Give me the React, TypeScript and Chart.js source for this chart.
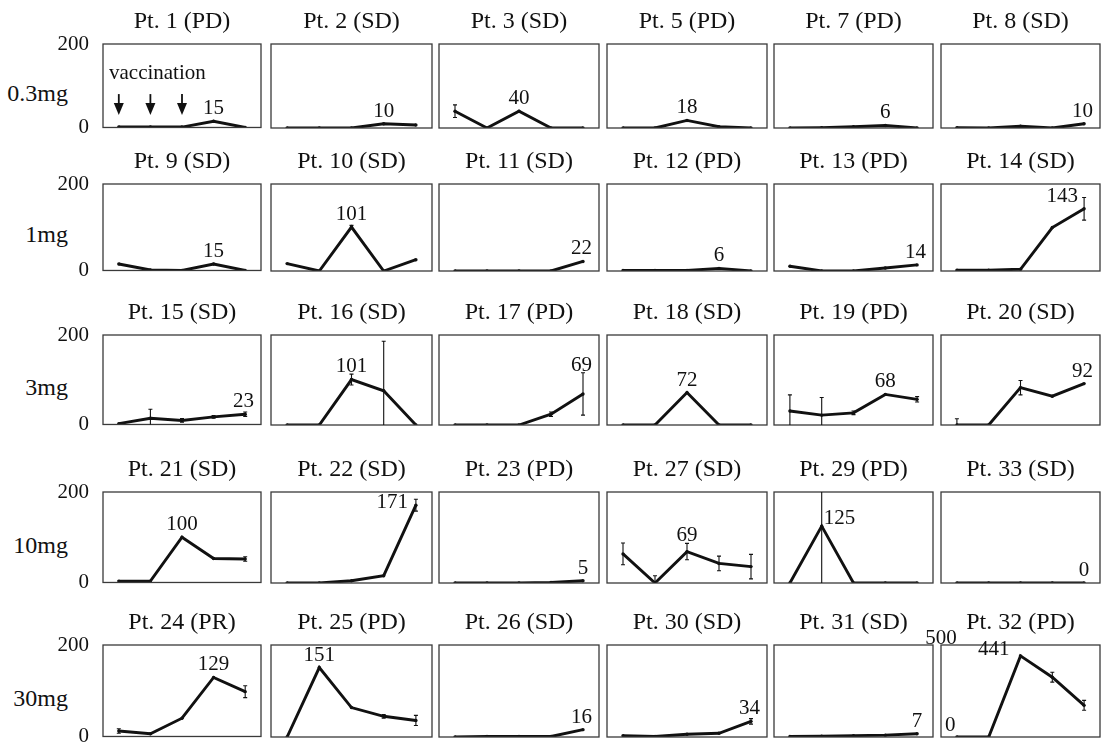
import React, { useEffect, useRef } from 'react';
import { Chart, registerables } from 'chart.js';

Chart.register(...registerables);

// ---------------- data ----------------
const timepoints = ['1', '2', '3', '4', '5'];
const doseLabels = ['0.3mg', '1mg', '3mg', '10mg', '30mg'];

const titles03 = ['Pt. 1 (PD)', 'Pt. 2 (SD)', 'Pt. 3 (SD)', 'Pt. 5 (PD)', 'Pt. 7 (PD)', 'Pt. 8 (SD)'];
const titles1 = ['Pt. 9 (SD)', 'Pt. 10 (SD)', 'Pt. 11 (SD)', 'Pt. 12 (PD)', 'Pt. 13 (PD)', 'Pt. 14 (SD)'];
const titles3 = ['Pt. 15 (SD)', 'Pt. 16 (SD)', 'Pt. 17 (PD)', 'Pt. 18 (SD)', 'Pt. 19 (PD)', 'Pt. 20 (SD)'];
const titles10 = ['Pt. 21 (SD)', 'Pt. 22 (SD)', 'Pt. 23 (PD)', 'Pt. 27 (SD)', 'Pt. 29 (PD)', 'Pt. 33 (SD)'];
const titles30 = ['Pt. 24 (PR)', 'Pt. 25 (PD)', 'Pt. 26 (SD)', 'Pt. 30 (SD)', 'Pt. 31 (SD)', 'Pt. 32 (PD)'];

// 0.3 mg
const pt1 = [1, 1, 1, 15, 0];
const pt2 = [0, 0, 0, 10, 7];
const pt3 = [40, 0, 40, 0, 0];
const pt5 = [0, 0, 18, 3, 0];
const pt7 = [0, 1, 3, 6, 0];
const pt8 = [1, 0, 4, 0, 10];
// 1 mg
const pt9 = [15, 1, 0, 15, 0];
const pt10 = [17, 0, 101, 0, 26];
const pt11 = [0, 0, 0, 0, 22];
const pt12 = [1, 1, 1, 6, 0];
const pt13 = [11, 0, 0, 7, 14];
const pt14 = [2, 2, 4, 100, 143];
// 3 mg
const pt15 = [2, 14, 9, 17, 23];
const pt16 = [0, 0, 101, 76, 0];
const pt17 = [0, 0, 0, 24, 69];
const pt18 = [0, 0, 72, 0, 0];
const pt19 = [31, 22, 27, 68, 57];
const pt20 = [0, 0, 83, 64, 92];
// 10 mg
const pt21 = [3, 3, 100, 53, 52];
const pt22 = [0, 0, 5, 16, 171];
const pt23 = [0, 0, 0, 1, 5];
const pt27 = [64, 0, 69, 43, 36];
const pt29 = [0, 125, 0, 0, 0];
const pt33 = [0, 0, 0, 0, 0];
// 30 mg
const pt24 = [12, 6, 40, 129, 98];
const pt25 = [0, 151, 64, 45, 36];
const pt26 = [0, 1, 1, 1, 16];
const pt30 = [3, 1, 6, 8, 34];
const pt31 = [1, 2, 3, 4, 7];
const pt32 = [0, 0, 441, 325, 172];

// error bar half-lengths
const noErr = [0, 0, 0, 0, 0];
const pt3Err = [15, 0, 0, 0, 0];
const pt10Err = [0, 0, 4, 0, 0];
const pt14Err = [0, 0, 0, 0, 26];
const pt15Err = [0, 20, 4, 3, 5];
const pt16Err = [0, 0, 12, 110, 0];
const pt17Err = [0, 0, 0, 5, 47];
const pt19Err = [36, 39, 4, 0, 6];
const pt20Err = [14, 0, 16, 0, 0];
const pt21Err = [0, 0, 0, 0, 5];
const pt22Err = [0, 0, 0, 0, 13];
const pt27Err = [24, 16, 18, 16, 27];
const pt29Err = [0, 140, 0, 0, 0];
const pt24Err = [5, 0, 0, 0, 13];
const pt25Err = [0, 0, 0, 4, 11];
const pt30Err = [0, 0, 0, 0, 6];
const pt32Err = [0, 0, 0, 27, 27];

// peak labels and the time point they belong to
const peak03 = ['15', '10', '40', '18', '6', '10'];
const peak1 = ['15', '101', '22', '6', '14', '143'];
const peak3 = ['23', '101', '69', '72', '68', '92'];
const peak10 = ['100', '171', '5', '69', '125', '0'];
const peak30 = ['129', '151', '16', '34', '7', '441'];
const peakIdx03 = [3, 3, 2, 2, 3, 4];
const peakIdx1 = [3, 2, 4, 3, 4, 4];
const peakIdx3 = [4, 2, 4, 2, 3, 4];
const peakIdx10 = [2, 4, 4, 2, 1, 4];
const peakIdx30 = [3, 1, 4, 4, 4, 2];

const yTicksStd = [0, 200];
const yTicksPt32 = [0, 500];

// ---------------- layout / style ----------------
const colLeft = [103, 271, 439, 607, 774, 941];
const colRight = [261, 432, 599, 767, 933, 1100];
const rowTop = [44, 184, 335, 492, 645];
const rowBottom = [128, 271, 425, 583, 737];
const FONT = '"Liberation Serif", "Times New Roman", serif';
const INK = '#111';

const labelStyles: Record<string, any> = {
  'Pt. 14 (SD)': { mode: 'left', gap: 6, dy: -12 },
  'Pt. 22 (SD)': { mode: 'left', gap: 8, dy: -3 },
  'Pt. 32 (PD)': { mode: 'left', gap: 11, dy: -6 },
  'Pt. 29 (PD)': { mode: 'right', gap: 2, dy: -8 },
};

const rows = [
  { titles: titles03, series: [pt1, pt2, pt3, pt5, pt7, pt8], errs: [noErr, noErr, pt3Err, noErr, noErr, noErr], peaks: peak03, idx: peakIdx03 },
  { titles: titles1, series: [pt9, pt10, pt11, pt12, pt13, pt14], errs: [noErr, pt10Err, noErr, noErr, noErr, pt14Err], peaks: peak1, idx: peakIdx1 },
  { titles: titles3, series: [pt15, pt16, pt17, pt18, pt19, pt20], errs: [pt15Err, pt16Err, pt17Err, noErr, pt19Err, pt20Err], peaks: peak3, idx: peakIdx3 },
  { titles: titles10, series: [pt21, pt22, pt23, pt27, pt29, pt33], errs: [pt21Err, pt22Err, noErr, pt27Err, pt29Err, noErr], peaks: peak10, idx: peakIdx10 },
  { titles: titles30, series: [pt24, pt25, pt26, pt30, pt31, pt32], errs: [pt24Err, pt25Err, noErr, pt30Err, noErr, pt32Err], peaks: peak30, idx: peakIdx30 },
];

function makeDecor(p: any) {
  return {
    id: 'decor',
    afterDatasetsDraw(chart: any) {
      const ctx = chart.ctx as CanvasRenderingContext2D;
      const ca = chart.chartArea;
      const ys = chart.scales.y;
      const pts = chart.getDatasetMeta(0).data;
      const w = ca.right - ca.left;
      const h = ca.bottom - ca.top;
      ctx.save();
      // frame
      ctx.strokeStyle = '#3a3a3a';
      ctx.lineWidth = 1.3;
      ctx.strokeRect(ca.left, ca.top, w, h);
      // error bars
      ctx.save();
      ctx.beginPath();
      ctx.rect(ca.left, ca.top, w, h);
      ctx.clip();
      ctx.strokeStyle = INK;
      ctx.lineWidth = 1.1;
      p.errors.forEach((e: number, i: number) => {
        if (!e) return;
        const v = p.values[i];
        const x = pts[i].x;
        const y1 = ys.getPixelForValue(v + e);
        const y2 = ys.getPixelForValue(v - e);
        ctx.beginPath();
        ctx.moveTo(x, y1);
        ctx.lineTo(x, y2);
        ctx.moveTo(x - 2, y1);
        ctx.lineTo(x + 2, y1);
        ctx.moveTo(x - 2, y2);
        ctx.lineTo(x + 2, y2);
        ctx.stroke();
      });
      ctx.restore();

      ctx.fillStyle = INK;
      ctx.font = `21px ${FONT}`;
      // peak label
      const pt = pts[p.peakIdx];
      const st = labelStyles[p.title] || { mode: 'above' };
      if (st.mode === 'above') {
        const tw = ctx.measureText(p.peak).width;
        let cx = pt.x;
        if (cx + tw / 2 > ca.right - 7) cx = ca.right - 7 - tw / 2;
        const e = p.errors[p.peakIdx];
        let by = pt.y - 7;
        if (e) by = Math.min(by, ys.getPixelForValue(p.values[p.peakIdx] + e) - 2);
        ctx.textAlign = 'center';
        ctx.textBaseline = 'alphabetic';
        ctx.fillText(p.peak, cx, by);
      } else if (st.mode === 'left') {
        ctx.textAlign = 'right';
        ctx.textBaseline = 'middle';
        ctx.fillText(p.peak, pt.x - st.gap, pt.y + st.dy);
      } else {
        ctx.textAlign = 'left';
        ctx.textBaseline = 'middle';
        ctx.fillText(p.peak, pt.x + st.gap, pt.y + st.dy);
      }

      // vaccination annotation (first panel)
      if (p.vaccination) {
        ctx.textAlign = 'left';
        ctx.textBaseline = 'alphabetic';
        ctx.fillText('vaccination', ca.left + 6, ca.top + 0.42 * h);
        ctx.strokeStyle = INK;
        ctx.lineWidth = 1.8;
        for (let i = 0; i < 3; i++) {
          const x = pts[i].x;
          const yA = ca.top + 0.6 * h;
          const yB = ca.top + 0.85 * h;
          ctx.beginPath();
          ctx.moveTo(x, yA);
          ctx.lineTo(x, yB - 8);
          ctx.stroke();
          ctx.beginPath();
          ctx.moveTo(x - 5, yB - 12);
          ctx.lineTo(x + 5, yB - 12);
          ctx.lineTo(x, yB);
          ctx.closePath();
          ctx.fill();
        }
      }

      // own axis labels (Pt. 32 uses 0-500)
      if (p.ownTicks) {
        ctx.textBaseline = 'middle';
        ctx.textAlign = 'center';
        ctx.fillText(String(p.ownTicks[1]), ca.left, ys.getPixelForValue(p.ownTicks[1]) - 7);
        ctx.textAlign = 'left';
        ctx.fillText(String(p.ownTicks[0]), ca.left + 4, ys.getPixelForValue(p.ownTicks[0]) - 12);
      }
      ctx.restore();
    },
  };
}

function Panel({ p }: { p: any }) {
  const ref = useRef<HTMLCanvasElement>(null);
  const first = p.col === 0;
  const axisW = first ? 62 : 0;
  const side = first ? 0 : p.ownTicks ? 24 : 8;
  const padR = first ? 8 : side;
  const padB = 14;
  const headH = 44;
  const boxW = colRight[p.col] - colLeft[p.col];
  const boxH = rowBottom[p.row] - rowTop[p.row];
  const left = colLeft[p.col] - side - axisW;
  const top = rowTop[p.row] - headH;
  const W = boxW + side + axisW + padR;
  const H = boxH + headH + padB;

  useEffect(() => {
    if (!ref.current) return;
    const chart = new Chart(ref.current, {
      type: 'line',
      data: {
        labels: timepoints,
        datasets: [
          {
            data: p.values,
            borderColor: INK,
            borderWidth: 2.9,
            pointRadius: 1.7,
            pointBackgroundColor: INK,
            pointBorderWidth: 0,
            tension: 0,
            fill: false,
          },
        ],
      },
      options: {
        responsive: false,
        animation: false,
        devicePixelRatio: 1,
        events: [],
        layout: { padding: { left: side, right: padR, top: 0, bottom: padB } },
        scales: {
          x: { type: 'category', offset: true, display: false },
          y: first
            ? {
                min: yTicksStd[0],
                max: yTicksStd[1],
                display: true,
                grid: { display: false, drawTicks: false },
                border: { display: false },
                ticks: {
                  stepSize: yTicksStd[1],
                  padding: 14,
                  color: INK,
                  font: { family: FONT, size: 21, lineHeight: 0.05 },
                },
                afterFit: (s: any) => {
                  s.width = axisW;
                },
              }
            : { min: 0, max: p.ownTicks ? p.ownTicks[1] : yTicksStd[1], display: false },
        },
        plugins: {
          legend: { display: false },
          tooltip: { enabled: false },
          title: {
            display: true,
            fullSize: false,
            text: p.title,
            color: INK,
            font: { family: FONT, size: 24, weight: 'normal' },
            padding: { top: 7, bottom: 8.2 },
          },
        },
      },
      plugins: [makeDecor(p)],
    } as any);
    return () => chart.destroy();
  }, []);

  return (
    <canvas
      ref={ref}
      width={W}
      height={H}
      style={{ position: 'absolute', left, top, width: W, height: H }}
    />
  );
}

export default function App() {
  const panels: any[] = [];
  rows.forEach((r, ri) => {
    r.series.forEach((s, ci) => {
      panels.push({
        row: ri,
        col: ci,
        title: r.titles[ci],
        values: s,
        errors: r.errs[ci],
        peak: r.peaks[ci],
        peakIdx: r.idx[ci],
        vaccination: ri === 0 && ci === 0,
        ownTicks: ri === 4 && ci === 5 ? yTicksPt32 : null,
      });
    });
  });

  return (
    <div
      style={{
        position: 'absolute',
        left: 0,
        top: 0,
        width: 1102,
        height: 744,
        overflow: 'hidden',
        background: '#fff',
        fontFamily: FONT,
        color: INK,
      }}
    >
      {doseLabels.map((d, i) => {
        const cy = rowTop[i] + 0.58 * (rowBottom[i] - rowTop[i]);
        return (
          <div
            key={d}
            style={{
              position: 'absolute',
              left: 0,
              width: 68,
              top: cy - 14,
              height: 28,
              lineHeight: '28px',
              fontSize: 24,
              textAlign: 'right',
              whiteSpace: 'nowrap',
            }}
          >
            {d}
          </div>
        );
      })}
      {panels.map((p) => (
        <Panel key={p.title} p={p} />
      ))}
    </div>
  );
}
